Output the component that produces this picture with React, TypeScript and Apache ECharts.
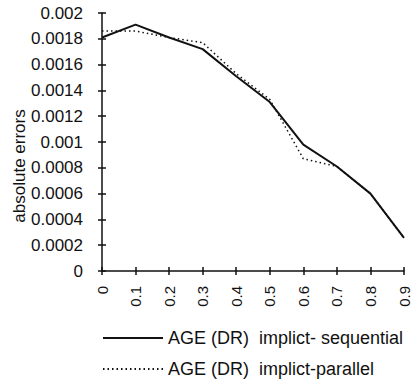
import React, { useEffect, useRef } from "react";
import * as echarts from "echarts";

const categories = ["0", "0.1", "0.2", "0.3", "0.4", "0.5", "0.6", "0.7", "0.8", "0.9"];
const sequential = [0.00181, 0.00191, 0.00181, 0.00172, 0.00151, 0.00131, 0.00098, 0.00081, 0.0006, 0.000256];
const parallel = [0.00186, 0.00186, 0.00181, 0.00177, 0.00153, 0.00133, 0.00087, 0.00081, 0.0006, 0.000256];
const seqName = "AGE (DR)  implict- sequential";
const parName = "AGE (DR)  implict-parallel";

const FONT = "'Liberation Sans', Arial, sans-serif";

function legendFor(name: string, top: number) {
  return {
    orient: "horizontal",
    left: 102,
    top,
    itemWidth: 60,
    itemHeight: 10,
    itemGap: 0,
    padding: 0,
    itemStyle: { opacity: 0 },
    textStyle: { fontFamily: FONT, fontSize: 18, color: "#111" },
    data: [name],
  };
}

export default function App() {
  const ref = useRef<HTMLDivElement>(null);
  useEffect(() => {
    const chart = echarts.init(ref.current!, null, { renderer: "svg" });
    chart.setOption({
      animation: false,
      backgroundColor: "#fff",
      textStyle: { fontFamily: FONT, color: "#111" },
      grid: { left: 102, right: 10, top: 13, bottom: 108, containLabel: false, outerBoundsMode: "none" },
      legend: [legendFor(seqName, 329), legendFor(parName, 360)],
      xAxis: [
        {
          type: "category",
          data: categories,
          boundaryGap: false,
          axisLine: { lineStyle: { color: "#111", width: 1.5 } },
          axisTick: { show: true, length: 4, lineStyle: { color: "#111", width: 1.5 } },
          axisLabel: { rotate: 90, fontSize: 15, color: "#111", fontFamily: FONT, margin: 15 },
          splitLine: { show: false },
        },
        {
          type: "category",
          data: categories,
          boundaryGap: false,
          position: "bottom",
          axisLine: { show: false },
          axisTick: { show: true, inside: true, length: 4, lineStyle: { color: "#111", width: 1.5 } },
          axisLabel: { show: false },
          splitLine: { show: false },
        },
      ],
      yAxis: [
        {
          type: "value",
          min: 0,
          max: 0.002,
          interval: 0.0002,
          name: "absolute errors",
          nameLocation: "middle",
          nameGap: 74,
          nameMoveOverlap: false,
          nameTextStyle: { fontSize: 17, color: "#111", fontFamily: FONT, padding: [0, 48, 0, 0] },
          axisLine: { show: true, lineStyle: { color: "#111", width: 1.5 } },
          axisTick: { show: true, length: 4, lineStyle: { color: "#111", width: 1.5 } },
          axisLabel: {
            fontSize: 17,
            color: "#111",
            fontFamily: FONT,
            margin: 19,
            formatter: (v: number) => (v === 0 ? "0" : String(parseFloat(v.toFixed(4)))),
          },
          splitLine: { show: false },
        },
        {
          type: "value",
          min: 0,
          max: 0.002,
          interval: 0.0002,
          position: "left",
          axisLine: { show: false },
          axisTick: { show: true, inside: true, length: 4, lineStyle: { color: "#111", width: 1.5 } },
          axisLabel: { show: false },
          splitLine: { show: false },
        },
      ],
      series: [
        {
          name: seqName,
          type: "line",
          data: sequential,
          symbol: "none",
          lineStyle: { color: "#111", width: 2, type: "solid" },
          itemStyle: { color: "#111" },
        },
        {
          name: parName,
          type: "line",
          data: parallel,
          symbol: "none",
          lineStyle: { color: "#111", width: 1.5, type: [1.5, 3] },
          itemStyle: { color: "#111" },
        },
      ],
    });
    return () => chart.dispose();
  }, []);
  return <div ref={ref} style={{ width: 414, height: 379, position: "absolute", left: 0, top: 0 }} />;
}
